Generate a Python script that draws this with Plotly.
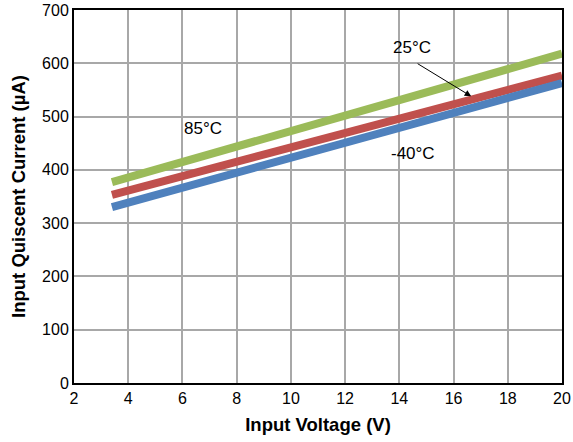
import plotly.graph_objects as go

# Input voltage (V) sweep endpoints
voltage = [3.4, 20]
# Quiescent current (µA) per temperature
iq_85c = [377, 618]
iq_25c = [353, 577]
iq_m40c = [330, 563]

series = [
    ("85°C", iq_85c, "#9BBB59"),
    ("25°C", iq_25c, "#C0504D"),
    ("-40°C", iq_m40c, "#4F81BD"),
]

fig = go.Figure()
for name, vals, color in series:
    fig.add_trace(go.Scatter(
        x=voltage, y=vals, mode="lines", name=name,
        line=dict(color=color, width=8),
    ))

font = dict(family="Liberation Sans, Arial, sans-serif", color="black")

fig.add_annotation(x=6.75, y=477, text="85°C", showarrow=False,
                   font=dict(size=17, **font))
fig.add_annotation(x=14.45, y=630, text="25°C", showarrow=False,
                   font=dict(size=17, **font))
fig.add_annotation(x=16.65, y=538, ax=14.62, ay=601, axref="x", ayref="y",
                   text="", showarrow=True, arrowhead=2, arrowsize=1.3,
                   arrowwidth=1, arrowcolor="black")
fig.add_annotation(x=14.5, y=431, text="-40°C", showarrow=False,
                   font=dict(size=17, **font))

fig.update_layout(
    width=573, height=442,
    margin=dict(l=74, r=2, t=9, b=59),
    paper_bgcolor="white", plot_bgcolor="white",
    showlegend=False,
    font=font,
)
fig.update_xaxes(
    range=[2, 20], tickvals=list(range(2, 21, 2)),
    showgrid=True, gridcolor="#a8a8a8", gridwidth=1.5,
    showline=True, linecolor="black", linewidth=2, mirror=True,
    ticks="", tickfont=dict(size=16, **font), ticklabeloverflow="allow",
    title=dict(text="<b>Input Voltage (V)</b>", font=dict(size=18.5, **font), standoff=12),
    zeroline=False,
)
fig.update_yaxes(
    range=[0, 700], tickvals=list(range(0, 701, 100)),
    showgrid=True, gridcolor="#a8a8a8", gridwidth=1.5,
    showline=True, linecolor="black", linewidth=2, mirror=True,
    ticks="", tickfont=dict(size=16, **font), ticklabeloverflow="allow",
    title=dict(text="<b>Input Quiscent Current (µA)</b>", font=dict(size=18.5, **font), standoff=12),
    zeroline=False,
)

fig.write_html("out.html")
